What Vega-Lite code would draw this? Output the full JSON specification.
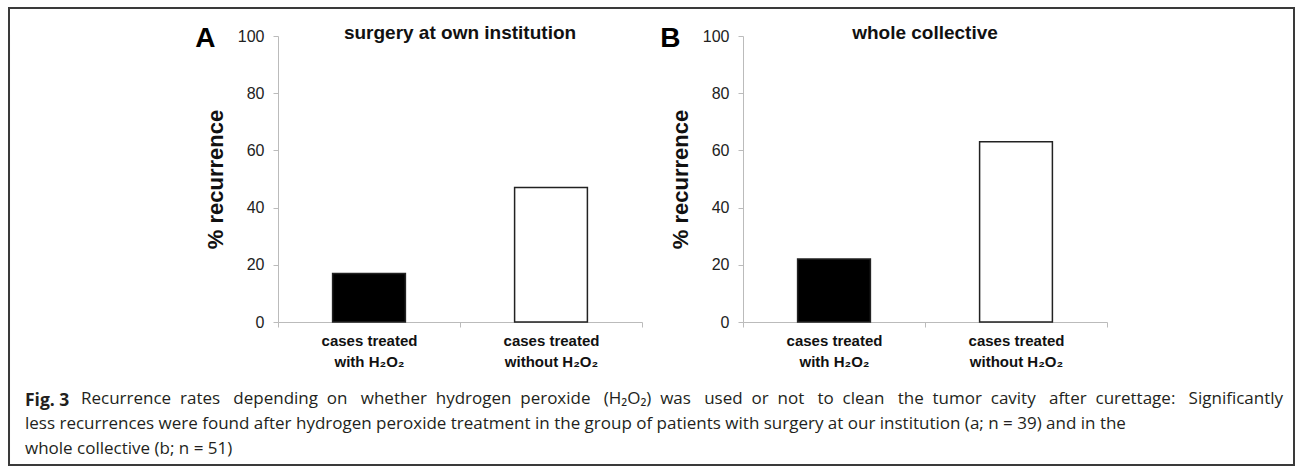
{
  "$schema": "https://vega.github.io/schema/vega-lite/v6.json",
  "background": "white",
  "padding": {"left": 8, "top": 7, "right": 0, "bottom": 0},
  "config": {"view": {"stroke": null}},
  "vconcat": [
    {
      "hconcat": [
        {"width": 0.01, "height": 28, "view": {"stroke": "#3a3a3a", "strokeWidth": 2, "fill": null}, "data": {"values": []}, "mark": "point"},
        {
          "width": 1284, "height": 0.01, "view": {"stroke": "#3a3a3a", "strokeWidth": 2, "fill": null}, "data": {"values": []}, "mark": "point",
          "title": {"text": "Recurrence\u00a0\u00a0rates\u00a0\u00a0\u00a0depending\u00a0\u00a0on\u00a0\u00a0\u00a0whether\u00a0\u00a0hydrogen\u00a0\u00a0peroxide\u00a0\u00a0\u00a0(H₂O₂)\u00a0\u00a0was\u00a0\u00a0\u00a0used\u00a0\u00a0or\u00a0\u00a0not\u00a0\u00a0\u00a0to\u00a0\u00a0clean\u00a0\u00a0\u00a0the\u00a0\u00a0tumor\u00a0\u00a0cavity\u00a0\u00a0\u00a0after\u00a0\u00a0curettage:\u00a0\u00a0\u00a0Significantly",
            "orient": "bottom", "anchor": "start", "frame": "group", "font": "Open Sans", "fontSize": 17, "fontWeight": "normal", "color": "#231f20", "baseline": "top", "offset": 383, "dx": 71}
        },
        {"width": 0.01, "height": 28, "view": {"stroke": "#3a3a3a", "strokeWidth": 2, "fill": null}, "data": {"values": []}, "mark": "point"}
      ],
      "spacing": 0,
      "bounds": "flush"
    },
    {
      "hconcat": [
        {"width": 0.01, "height": 429, "view": {"stroke": "#3a3a3a", "strokeWidth": 2, "fill": null}, "data": {"values": []}, "mark": "point"},
        {"width": 66, "height": 10, "data": {"values": []}, "mark": "point"},
        {
          "width": 364,
          "height": 286,
          "title": {"text": "A", "anchor": "start", "frame": "bounds", "font": "Liberation Sans", "fontSize": 28, "fontWeight": "bold", "color": "#000000", "baseline": "alphabetic", "offset": -51, "dx": -9},
          "data": {"values": [
            {"group": "cases treated|with H₂O₂", "treatment": "with", "recurrence": 17},
            {"group": "cases treated|without H₂O₂", "treatment": "without", "recurrence": 47}
          ]},
          "layer": [
            {
              "mark": {"type": "bar", "width": {"band": 0.4}, "stroke": "#222222", "strokeWidth": 1.5},
              "encoding": {
                "x": {"field": "group", "type": "nominal", "sort": null, "scale": {"paddingInner": 0, "paddingOuter": 0},
                  "axis": {"title": null, "labelAngle": 0, "labelExpr": "split(datum.label, '|')", "labelFont": "Liberation Sans", "labelFontSize": 15, "labelFontWeight": "bold", "labelColor": "#111111", "labelPadding": 6, "labelLineHeight": 21, "tickBand": "extent", "tickSize": 5, "tickColor": "#bbbbbb", "domainColor": "#bbbbbb"}},
                "y": {"field": "recurrence", "type": "quantitative", "scale": {"domain": [0, 100]},
                  "axis": {"values": [0, 20, 40, 60, 80, 100], "grid": false, "title": "% recurrence", "titleFont": "Liberation Sans", "titleFontSize": 22, "titleFontWeight": "bold", "titleColor": "#111111", "titlePadding": 10, "labelFont": "Liberation Sans", "labelFontSize": 16, "labelColor": "#222222", "labelPadding": 9, "tickSize": 5, "tickColor": "#bbbbbb", "domainColor": "#bbbbbb"}},
                "fill": {"field": "treatment", "type": "nominal", "scale": {"domain": ["with", "without"], "range": ["#000000", "#ffffff"]}, "legend": null}
              }
            },
            {
              "data": {"values": [{"label": "surgery at own institution"}]},
              "mark": {"type": "text", "font": "Liberation Sans", "fontSize": 19, "fontWeight": "bold", "baseline": "alphabetic", "dy": 3, "color": "#111111"},
              "encoding": {"text": {"field": "label"}, "y": {"datum": 100, "type": "quantitative"}}
            }
          ]
        },
        {
          "hconcat": [
            {
              "width": 364,
              "height": 286,
              "title": {"text": "B", "anchor": "start", "frame": "bounds", "font": "Liberation Sans", "fontSize": 28, "fontWeight": "bold", "color": "#000000", "baseline": "alphabetic", "offset": -51, "dx": -9},
              "data": {"values": [
                {"group": "cases treated|with H₂O₂", "treatment": "with", "recurrence": 22},
                {"group": "cases treated|without H₂O₂", "treatment": "without", "recurrence": 63}
              ]},
              "layer": [
                {
                  "mark": {"type": "bar", "width": {"band": 0.4}, "stroke": "#222222", "strokeWidth": 1.5},
                  "encoding": {
                    "x": {"field": "group", "type": "nominal", "sort": null, "scale": {"paddingInner": 0, "paddingOuter": 0},
                      "axis": {"title": null, "labelAngle": 0, "labelExpr": "split(datum.label, '|')", "labelFont": "Liberation Sans", "labelFontSize": 15, "labelFontWeight": "bold", "labelColor": "#111111", "labelPadding": 6, "labelLineHeight": 21, "tickBand": "extent", "tickSize": 5, "tickColor": "#bbbbbb", "domainColor": "#bbbbbb"}},
                    "y": {"field": "recurrence", "type": "quantitative", "scale": {"domain": [0, 100]},
                      "axis": {"values": [0, 20, 40, 60, 80, 100], "grid": false, "title": "% recurrence", "titleFont": "Liberation Sans", "titleFontSize": 22, "titleFontWeight": "bold", "titleColor": "#111111", "titlePadding": 10, "labelFont": "Liberation Sans", "labelFontSize": 16, "labelColor": "#222222", "labelPadding": 9, "tickSize": 5, "tickColor": "#bbbbbb", "domainColor": "#bbbbbb"}},
                    "fill": {"field": "treatment", "type": "nominal", "scale": {"domain": ["with", "without"], "range": ["#000000", "#ffffff"]}, "legend": null}
                  }
                },
                {
                  "data": {"values": [{"label": "whole collective"}]},
                  "mark": {"type": "text", "font": "Liberation Sans", "fontSize": 19, "fontWeight": "bold", "baseline": "alphabetic", "dy": 3, "color": "#111111"},
                  "encoding": {"text": {"field": "label"}, "y": {"datum": 100, "type": "quantitative"}}
                }
              ]
            },
            {"width": 0.01, "height": 429, "view": {"stroke": "#3a3a3a", "strokeWidth": 2, "fill": null}, "data": {"values": []}, "mark": "point"}
          ],
          "spacing": 187,
          "bounds": "flush"
        }
      ],
      "spacing": 101,
      "bounds": "flush"
    },
    {
      "width": 1284, "height": 373, "data": {"values": []}, "mark": "point",
      "title": {"text": "Fig. 3", "orient": "bottom", "anchor": "start", "frame": "group", "font": "Open Sans", "fontSize": 17.5, "fontWeight": "bold", "color": "#231f20", "baseline": "top", "offset": -45, "dx": 16}
    },
    {
      "width": 1284, "height": 0.01, "view": {"stroke": "#3a3a3a", "strokeWidth": 2, "fill": null}, "data": {"values": []}, "mark": "point",
      "title": {"text": [
          "less recurrences were found after hydrogen peroxide treatment in the group of patients with surgery at our institution (a; n = 39) and in the",
          "whole collective (b; n = 51)"
        ],
        "orient": "bottom", "anchor": "start", "frame": "group", "font": "Open Sans", "fontSize": 17, "fontWeight": "normal", "color": "#231f20", "baseline": "top", "lineHeight": 25, "offset": -49, "dx": 16}
    }
  ],
  "spacing": 28,
  "bounds": "flush"
}
